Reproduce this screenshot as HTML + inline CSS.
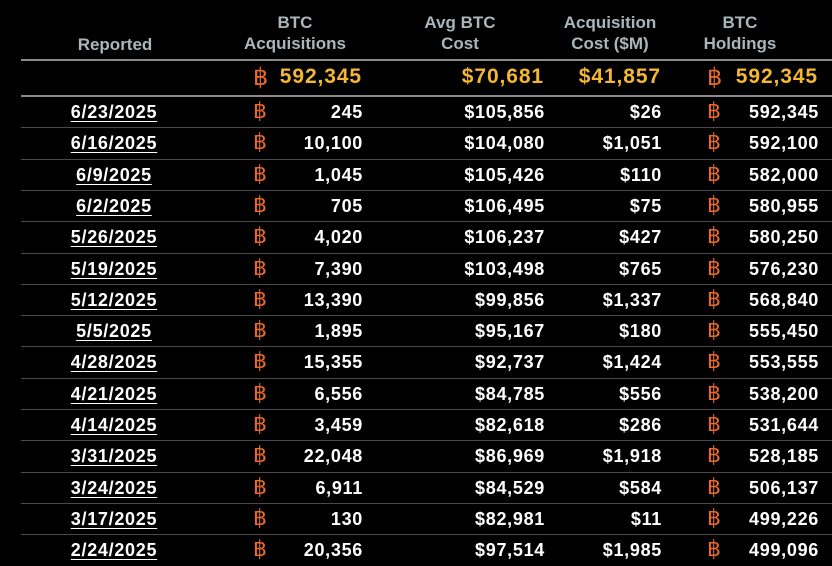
<!DOCTYPE html>
<html><head><meta charset="utf-8"><style>
body{margin:0;width:832px;height:564px;background:#000;overflow:hidden;font-family:"Liberation Sans","DejaVu Sans",sans-serif;position:relative}
.h{position:absolute;color:#aab6bb;font-size:17px;text-align:center;line-height:21px;font-weight:bold}
.ln{position:absolute;left:21px;right:0;height:2px;background:#8a8a8a}
.row{position:absolute;left:0;width:832px;height:31px}
.sep{position:absolute;left:21px;right:0;height:1px;background:#4a4a4a}
.c{position:absolute;font-size:18px;color:#fff;font-weight:bold;top:5px;white-space:nowrap;letter-spacing:0.7px}
.d{text-decoration:underline;text-underline-offset:3px;width:200px;left:14px;text-align:center}
.r{text-align:right}
.b{color:#e8692c;font-weight:normal;font-family:"DejaVu Sans",sans-serif;font-size:22px;top:2px;letter-spacing:0}
.t{font-size:21px;color:#f4b731;top:4px;letter-spacing:0.9px}
</style></head><body>
<div class="h" style="left:15px;width:200px;top:34px">Reported</div>
<div class="h" style="left:210px;width:170px;top:12px">BTC<br>Acquisitions</div>
<div class="h" style="left:400px;width:120px;top:12px">Avg BTC<br>Cost</div>
<div class="h" style="left:540px;width:140px;top:12px">Acquisition<br>Cost ($M)</div>
<div class="h" style="left:680px;width:120px;top:12px">BTC<br>Holdings</div>
<div class="ln" style="top:59px"></div>
<div class="row" style="top:61px">
<span class="c b" style="left:253px;top:2px;font-size:24px">฿</span>
<span class="c t r" style="right:470px">592,345</span>
<span class="c t r" style="right:288px">$70,681</span>
<span class="c t r" style="right:171px">$41,857</span>
<span class="c b" style="left:707px;top:2px;font-size:24px">฿</span>
<span class="c t r" style="right:14px">592,345</span>
</div>
<div class="ln" style="top:95px"></div>
<div id="rows"></div>
<script>
var d=[["6/23/2025","245","$105,856","$26","592,345"],["6/16/2025","10,100","$104,080","$1,051","592,100"],["6/9/2025","1,045","$105,426","$110","582,000"],["6/2/2025","705","$106,495","$75","580,955"],["5/26/2025","4,020","$106,237","$427","580,250"],["5/19/2025","7,390","$103,498","$765","576,230"],["5/12/2025","13,390","$99,856","$1,337","568,840"],["5/5/2025","1,895","$95,167","$180","555,450"],["4/28/2025","15,355","$92,737","$1,424","553,555"],["4/21/2025","6,556","$84,785","$556","538,200"],["4/14/2025","3,459","$82,618","$286","531,644"],["3/31/2025","22,048","$86,969","$1,918","528,185"],["3/24/2025","6,911","$84,529","$584","506,137"],["3/17/2025","130","$82,981","$11","499,226"],["2/24/2025","20,356","$97,514","$1,985","499,096"]];
var h="";
d.forEach(function(r,i){var top=97+i*31.3;
h+='<div class="row" style="top:'+top+'px"><span class="c d">'+r[0]+'</span><span class="c b" style="left:253px">฿</span><span class="c r" style="right:469px">'+r[1]+'</span><span class="c r" style="right:287px">'+r[2]+'</span><span class="c r" style="right:170px">'+r[3]+'</span><span class="c b" style="left:707px">฿</span><span class="c r" style="right:13px">'+r[4]+'</span></div>';
if(i<14)h+='<div class="sep" style="top:'+(top+30.3)+'px"></div>';});
document.getElementById("rows").innerHTML=h;
</script>
</body></html>
